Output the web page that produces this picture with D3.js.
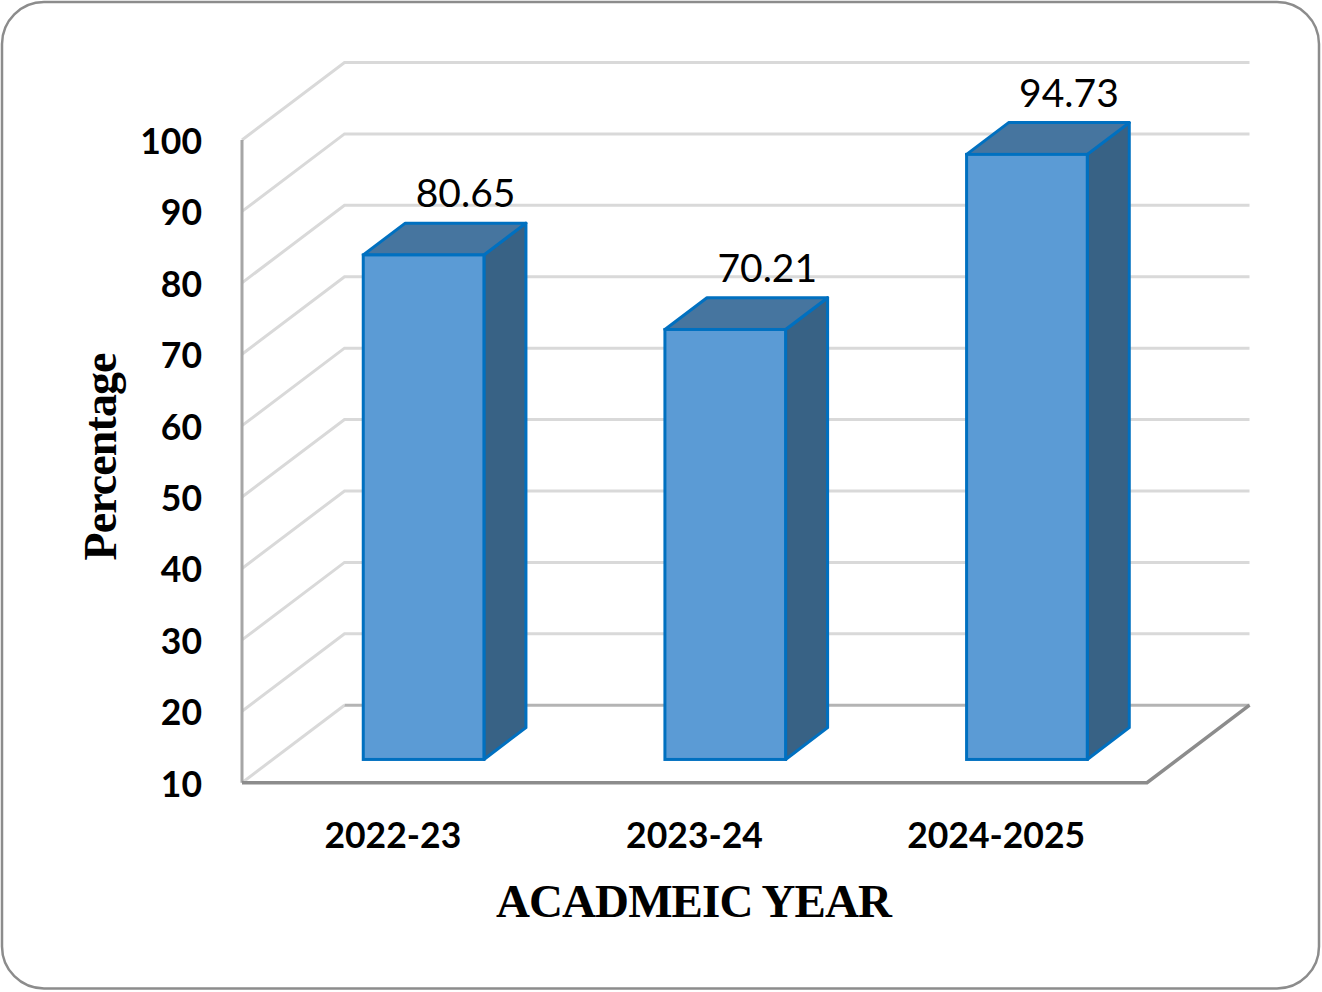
<!DOCTYPE html>
<html>
<head>
<meta charset="utf-8">
<script src="https://cdn.jsdelivr.net/npm/d3@7"></script>
<style>
  body { margin: 0; background: #fff; }
  svg { display: block; }
</style>
</head>
<body>
<div id="chart"></div>
<script>
// chart values
const years = ["2022-23", "2023-24", "2024-2025"];
const percentages = [80.65, 70.21, 94.73];
const yTicks = [10, 20, 30, 40, 50, 60, 70, 80, 90, 100];
const yTitle = "Percentage";
const xTitle = "ACADMEIC YEAR";

const W = 1322, H = 992;
// plot box (front plane) + 3d depth vector
const plot = {left: 242, right: 1147, top: 140, bottom: 782.7};
const depth = {dx: 102.5, dy: -77.5};
const barDepthStart = 0.3, barDepthSize = 0.41;

const svg = d3.select("#chart").append("svg")
  .attr("width", W)
  .attr("height", H);

svg.append("rect")
  .attr("x", 2).attr("y", 2)
  .attr("width", W - 5).attr("height", H - 5.5)
  .attr("rx", 42).attr("ry", 42)
  .attr("fill", "#fff")
  .attr("stroke", "#8c8c8c")
  .attr("stroke-width", 2.5);

const yScale = d3.scaleLinear()
  .domain([10, 100])
  .range([plot.bottom, plot.top]);

const xScale = d3.scaleBand()
  .domain(years)
  .range([plot.left, plot.right])
  .paddingInner(0.6)
  .paddingOuter(0.3);

// side wall + back wall gridlines
svg.append("g")
  .attr("class", "grid")
  .selectAll("path")
  .data(yTicks)
  .enter()
  .append("path")
  .attr("fill", "none")
  .attr("stroke", "#d9d9d9")
  .attr("stroke-width", 3)
  .attr("d", d => {
    let y0 = yScale(d);
    let p = d3.path();
    p.moveTo(plot.left, y0);
    p.lineTo(plot.left + depth.dx, y0 + depth.dy);
    if (d !== 10) p.lineTo(plot.right + depth.dx, y0 + depth.dy);
    return p.toString();
  });

// floor back edge
svg.append("line")
  .attr("x1", plot.left + depth.dx).attr("y1", plot.bottom + depth.dy)
  .attr("x2", plot.right + depth.dx).attr("y2", plot.bottom + depth.dy)
  .attr("stroke", "#b4b4b4")
  .attr("stroke-width", 3);

// vertical axis line
svg.append("line")
  .attr("x1", plot.left).attr("y1", yScale(100))
  .attr("x2", plot.left).attr("y2", yScale(10))
  .attr("stroke", "#a6a6a6")
  .attr("stroke-width", 3);

// floor front + right edge
svg.append("path")
  .attr("fill", "none")
  .attr("stroke", "#8c8c8c")
  .attr("stroke-width", 3.5)
  .attr("d", "M" + plot.left + "," + plot.bottom +
             "L" + plot.right + "," + plot.bottom +
             "L" + (plot.right + depth.dx) + "," + (plot.bottom + depth.dy));

// bars
const bdx = depth.dx * barDepthSize, bdy = depth.dy * barDepthSize;
const offX = depth.dx * barDepthStart, offY = depth.dy * barDepthStart;
const bw = xScale.bandwidth();

const bars = svg.append("g")
  .attr("class", "bars")
  .selectAll("g")
  .data(years.map((y, i) => ({year: y, value: percentages[i]})))
  .enter()
  .append("g");

function barGeom(d) {
  let x = xScale(d.year) + offX;
  let yt = yScale(d.value) + offY;
  let yb = yScale(10) + offY;
  return {x, yt, yb};
}

bars.append("polygon")
  .attr("fill", "#386285")
  .attr("stroke", "#0070c0")
  .attr("stroke-width", 3)
  .attr("stroke-linejoin", "round")
  .attr("points", d => {
    let g = barGeom(d);
    return [[g.x + bw, g.yt], [g.x + bw + bdx, g.yt + bdy], [g.x + bw + bdx, g.yb + bdy], [g.x + bw, g.yb]].join(" ");
  });

bars.append("polygon")
  .attr("fill", "#46759f")
  .attr("stroke", "#0070c0")
  .attr("stroke-width", 3)
  .attr("stroke-linejoin", "round")
  .attr("points", d => {
    let g = barGeom(d);
    return [[g.x, g.yt], [g.x + bw, g.yt], [g.x + bw + bdx, g.yt + bdy], [g.x + bdx, g.yt + bdy]].join(" ");
  });

bars.append("rect")
  .attr("fill", "#5b9bd5")
  .attr("stroke", "#0070c0")
  .attr("stroke-width", 3)
  .attr("x", d => barGeom(d).x)
  .attr("y", d => barGeom(d).yt)
  .attr("width", bw)
  .attr("height", d => { let g = barGeom(d); return g.yb - g.yt; });

// value labels
bars.append("text")
  .attr("x", d => barGeom(d).x + bw / 2 + bdx)
  .attr("y", d => barGeom(d).yt + bdy - 16)
  .attr("text-anchor", "middle")
  .attr("font-family", "Lato, 'Open Sans', sans-serif")
  .attr("font-size", 39)
  .attr("fill", "#000")
  .text(d => d3.format(".2f")(d.value));

// y axis labels
const yAxis = svg.append("g")
  .attr("transform", "translate(" + plot.left + ",0)")
  .call(d3.axisLeft(yScale).tickValues(yTicks).tickSize(0).tickPadding(40));
yAxis.select(".domain").remove();
yAxis.selectAll("text")
  .attr("dy", "0.38em")
  .attr("font-family", "Lato, 'Open Sans', sans-serif")
  .attr("font-weight", "bold")
  .attr("font-size", 35.5)
  .attr("fill", "#000");

// x axis labels (at the category centres of the front plane)
const xAxis = svg.append("g")
  .attr("transform", "translate(0," + plot.bottom + ")")
  .call(d3.axisBottom(d3.scaleBand().domain(years).range([plot.left, plot.right])).tickSize(0).tickPadding(40));
xAxis.select(".domain").remove();
xAxis.selectAll("text")
  .attr("font-family", "Lato, 'Open Sans', sans-serif")
  .attr("font-weight", "bold")
  .attr("font-size", 35.5)
  .attr("fill", "#000");

// titles
svg.append("text")
  .attr("transform", "translate(116,456.5) rotate(-90)")
  .attr("text-anchor", "middle")
  .attr("font-family", "'Liberation Serif', 'Times New Roman', serif")
  .attr("font-weight", "bold")
  .attr("font-size", 46)
  .attr("textLength", 208)
  .attr("lengthAdjust", "spacing")
  .text(yTitle);

svg.append("text")
  .attr("x", 694)
  .attr("y", 917)
  .attr("text-anchor", "middle")
  .attr("font-family", "'Liberation Serif', 'Times New Roman', serif")
  .attr("font-weight", "bold")
  .attr("font-size", 47)
  .attr("textLength", 396)
  .attr("lengthAdjust", "spacing")
  .text(xTitle);
</script>
</body>
</html>
